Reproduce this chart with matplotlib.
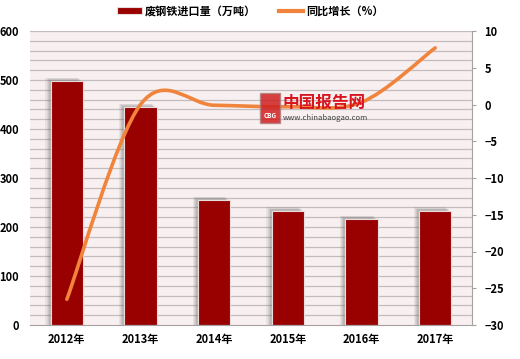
import matplotlib
matplotlib.use("Agg")
import matplotlib.pyplot as plt
from matplotlib.path import Path
from matplotlib.patches import PathPatch, Rectangle
import numpy as np

plt.rcParams["font.family"] = ["Noto Sans CJK SC", "DejaVu Sans"]

years = ["2012年", "2013年", "2014年", "2015年", "2016年", "2017年"]
imports = [498, 445, 255, 233, 216, 233]
growth = [-26.5, 0.0, -0.1, -0.3, 0.3, 7.7]

BAR_COLOR = "#990000"
LINE_COLOR = "#F0843C"
GRID_COLOR = "#C4BCBC"


def smooth_path(xs, ys):
    # Excel-style smoothed line: cubic Bezier through each data point
    pts = np.column_stack([xs, ys]).astype(float)
    n = len(pts)
    verts = [pts[0]]
    codes = [Path.MOVETO]
    for i in range(n - 1):
        p_prev = pts[i - 1] if i > 0 else pts[i]
        p_next2 = pts[i + 2] if i + 2 < n else pts[i + 1]
        c1 = pts[i] + (pts[i + 1] - p_prev) / 6.0
        c2 = pts[i + 1] - (p_next2 - pts[i]) / 6.0
        verts += [c1, c2, pts[i + 1]]
        codes += [Path.CURVE4] * 3
    return Path(verts, codes)


fig = plt.figure(figsize=(5.2, 3.59), dpi=100, facecolor="white")
ax = fig.add_axes([30 / 520, 34 / 359, 442 / 520, 294 / 359])
ax.set_facecolor("#F8F0F0")

x = np.arange(len(years))
ax.set_xlim(-0.5, len(years) - 0.5)
ax.set_ylim(0, 600)

for yv in range(20, 600, 20):
    ax.axhline(yv, color=GRID_COLOR, linewidth=0.9, zorder=0)
ax.axhline(600, color=GRID_COLOR, linewidth=0.9, zorder=0)

# soft shadows behind bars (offset up and to the left)
width = 0.44
for xi, v in zip(x, imports):
    for k, a in enumerate([0.10, 0.10, 0.12, 0.14]):
        off = 0.07 - k * 0.014
        ax.add_patch(Rectangle((xi - width / 2 - off, 0), width, v + off * 100,
                               facecolor="#606060", alpha=a, linewidth=0, zorder=1))

ax.bar(x, imports, width=width, color=BAR_COLOR, edgecolor="#E8DCDC",
       linewidth=0.8, zorder=2, label="废钢铁进口量（万吨）")

ax.set_yticks(range(0, 601, 100))
ax.set_xticks(x)
ax.set_xticklabels(years)
for lbl in ax.get_xticklabels() + ax.get_yticklabels():
    lbl.set_fontweight("bold")
    lbl.set_fontsize(8)
ax.tick_params(axis="x", length=0, pad=6)
ax.tick_params(axis="y", length=0, pad=8)
for side in ["top", "right", "left"]:
    ax.spines[side].set_visible(False)
ax.spines["bottom"].set_color("#A8A0A0")

ax2 = ax.twinx()
ax2.set_ylim(-30, 10)
ax2.set_yticks(range(-30, 11, 5))
for lbl in ax2.get_yticklabels():
    lbl.set_fontweight("bold")
    lbl.set_fontsize(8)
ax2.tick_params(axis="y", length=3, color="#A8A0A0", pad=6)
for side in ["top", "left", "bottom"]:
    ax2.spines[side].set_visible(False)
ax2.spines["right"].set_color("#A8A0A0")

ax2.add_patch(PathPatch(smooth_path(x, growth), facecolor="none",
                        edgecolor=LINE_COLOR, linewidth=2.6,
                        capstyle="round", zorder=3))
ax2.plot([], [], color=LINE_COLOR, linewidth=3, label="同比增长（%）")

# watermark
fig.patches.append(Rectangle((260 / 520, 1 - 123 / 359), 20 / 520, 30 / 359,
                             transform=fig.transFigure, facecolor="#D02020",
                             edgecolor="#B08080", linewidth=1, alpha=0.85))
fig.text(270 / 520, 1 - 116 / 359, "CBG", fontsize=4.5, color="white",
         ha="center", va="center", fontweight="bold")
fig.text(283 / 520, 1 - 103 / 359, "中国报告网", fontsize=12, color="#D8141E",
         ha="left", va="center", fontweight="bold")
fig.text(283 / 520, 1 - 118 / 359, "www.chinabaogao.com", fontsize=5.5,
         color="#404040", ha="left", va="center")

h1, l1 = ax.get_legend_handles_labels()
h2, l2 = ax2.get_legend_handles_labels()
fig.legend(h1 + h2, l1 + l2, loc="center", bbox_to_anchor=(0.482, 1 - 11 / 359),
           ncol=2, frameon=False, handlelength=2.2,
           handleheight=0.5, columnspacing=2.0, handletextpad=0.3,
           prop={"weight": "bold", "size": 8})

fig.savefig("out.png", dpi=100, facecolor="white")
